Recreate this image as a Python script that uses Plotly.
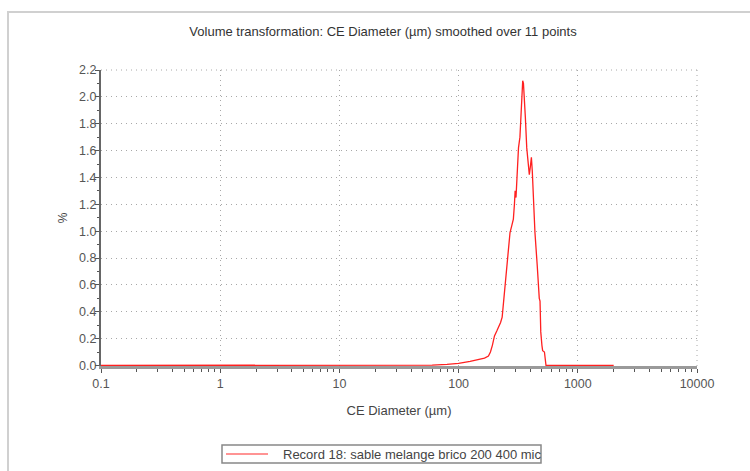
import plotly.graph_objects as go

diameter_um = [0.1, 1, 10, 40, 60, 80, 100, 125, 150, 165, 178, 185, 192, 200, 210, 218,
               225, 232, 240, 248, 255, 263, 270, 279, 288, 294, 298, 303, 310, 318, 327,
               333, 340, 345, 350, 356, 363, 373, 383, 392, 400, 408, 415, 424, 437, 457,
               467, 475, 482, 489, 500, 507, 525, 533, 541, 600, 1000, 2000]
volume_pct = [0, 0, 0, 0, 0.003, 0.008, 0.015, 0.03, 0.045, 0.055, 0.07, 0.10, 0.15, 0.22,
              0.26, 0.29, 0.32, 0.36, 0.50, 0.62, 0.74, 0.87, 0.99, 1.04, 1.09, 1.20, 1.30,
              1.25, 1.45, 1.62, 1.70, 1.82, 2.02, 2.12, 2.10, 2.00, 1.85, 1.62, 1.48, 1.42,
              1.48, 1.55, 1.45, 1.20, 0.99, 0.74, 0.54, 0.50, 0.48, 0.25, 0.15, 0.11, 0.10,
              0.05, 0, 0, 0, 0]

x_tickvals = [0.1, 1, 10, 100, 1000, 10000]
x_ticktext = ["0.1", "1", "10", "100", "1000", "10000"]
x_minor = [m * d for d in [0.1, 1, 10, 100, 1000] for m in range(2, 10)]

series_name = "Record 18: sable melange brico 200 400 mic"
title_text = "Volume transformation: CE Diameter (µm) smoothed over 11 points"

FONT = "Liberation Sans, Arial, sans-serif"
GRID = "#a8a8a8"
GRID_DASH = "1px,4px"
LINE_COLOR = "#ff2020"

fig = go.Figure()
fig.add_trace(go.Scatter(
    x=diameter_um, y=volume_pct, mode="lines", name=series_name,
    line=dict(color=LINE_COLOR, width=1.3), showlegend=False,
))

W, H = 750, 471
L, R, T, B = 101, 53, 70, 105
pw, ph = W - L - R, H - T - B

def px2paper_x(px):
    return (px - L) / pw

def px2paper_y(py):
    return (H - B - py) / ph

# legend box (drawn as a framed key, text clipped at the right like the original)
leg_x0, leg_x1, leg_y0, leg_y1 = 222, 541, 445, 463
leg_mid = (leg_y0 + leg_y1) / 2

fig.update_layout(
    width=W, height=H,
    margin=dict(l=L, r=R, t=T, b=B, pad=0, autoexpand=False),
    paper_bgcolor="white", plot_bgcolor="white",
    font=dict(family=FONT, size=12, color="#444"),
    title=dict(text=title_text, x=383 / W, xanchor="center", xref="container",
               y=1 - 31 / H, yanchor="middle", yref="container",
               font=dict(size=13, color="#333")),
    showlegend=False,
    xaxis=dict(type="log", range=[-1, 4],
               tickmode="array", tickvals=x_tickvals, ticktext=x_ticktext,
               showgrid=True, gridcolor=GRID, griddash=GRID_DASH, gridwidth=1,
               showline=True, linecolor="#9a9a9a", linewidth=3,
               ticks="outside", ticklen=4, tickcolor="#555", tickwidth=1,
               minor=dict(tickmode="array", tickvals=x_minor, ticks="outside",
                          ticklen=3, tickcolor="#555", showgrid=False),
               zeroline=False, layer="below traces",
               title=dict(text="CE Diameter (µm)", standoff=16,
                          font=dict(size=13, color="#444")),
               tickfont=dict(size=12.5, color="#555")),
    yaxis=dict(range=[-0.004, 2.2], dtick=0.2, tick0=0, tickformat=".1f",
               showgrid=True, gridcolor=GRID, griddash=GRID_DASH, gridwidth=1,
               showline=True, linecolor="#666", linewidth=2,
               ticks="outside", ticklen=4, tickcolor="#555", tickwidth=1,
               ticklabelstandoff=-4,
               minor=dict(dtick=0.1, ticks="outside", ticklen=2, tickcolor="#555",
                          showgrid=False),
               zeroline=False, layer="below traces",
               title=dict(text="%", standoff=9, font=dict(size=12, color="#444")),
               tickfont=dict(size=12.5, color="#555")),
    shapes=[
        dict(type="rect", xref="paper", yref="paper",
             x0=px2paper_x(8), x1=px2paper_x(770), y0=px2paper_y(12), y1=px2paper_y(490),
             line=dict(color="#d0d0d0", width=2), layer="below"),
        dict(type="line", xref="paper", yref="paper",
             x0=0, x1=1, y0=1, y1=1, line=dict(color=GRID, width=1, dash=GRID_DASH)),
        dict(type="line", xref="paper", yref="paper",
             x0=1, x1=1, y0=0, y1=1, line=dict(color=GRID, width=1, dash=GRID_DASH)),
        dict(type="rect", xref="paper", yref="paper",
             x0=px2paper_x(leg_x0), x1=px2paper_x(leg_x1),
             y0=px2paper_y(leg_y1), y1=px2paper_y(leg_y0),
             line=dict(color="#888", width=1.5), fillcolor="white"),
        dict(type="line", xref="paper", yref="paper",
             x0=px2paper_x(226), x1=px2paper_x(268),
             y0=px2paper_y(leg_mid), y1=px2paper_y(leg_mid),
             line=dict(color="#ff7070", width=1.5)),
    ],
    annotations=[
        dict(text=series_name, xref="paper", yref="paper",
             x=px2paper_x(281), y=px2paper_y(leg_mid), xanchor="left", yanchor="middle",
             width=leg_x1 - 281 - 1, align="left", showarrow=False,
             font=dict(size=13, color="#444")),
    ],
)

fig.write_html("out.html", post_script="document.body.style.margin='0';",
               config={"displayModeBar": False})
